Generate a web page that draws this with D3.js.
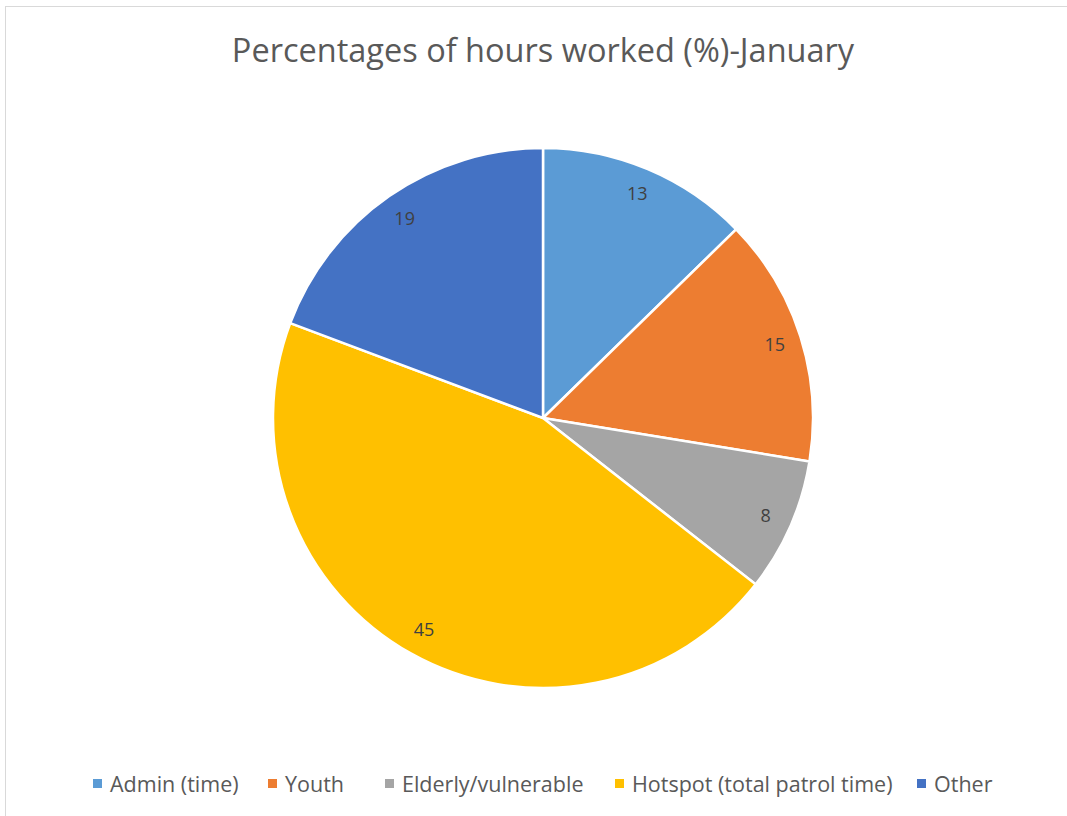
<!DOCTYPE html>
<html>
<head>
<meta charset="utf-8">
<script src="https://cdn.jsdelivr.net/npm/d3@7"></script>
<style>
  body { margin: 0; background: #fff; }
  text { font-family: "Open Sans", "Liberation Sans", sans-serif; }
</style>
</head>
<body>
<div id="main"></div>
<script>
const categories = ["Admin (time)", "Youth", "Elderly/vulnerable", "Hotspot (total patrol time)", "Other"];
// slice shares; the labels show them rounded
const values = [12.7, 14.9, 8.0, 45.2, 19.3];
const colors = ["#5b9bd5", "#ed7d31", "#a5a5a5", "#ffc000", "#4472c4"];

const width = 1067;
const height = 816;
const cx = 543, cy = 418, radius = 270;

const svg = d3.select("#main").append("svg")
  .attr("width", width)
  .attr("height", height);

// chart border
svg.append("rect")
  .attr("x", 5.5).attr("y", 6.5)
  .attr("width", width + 10).attr("height", height + 10)
  .attr("fill", "#fff")
  .attr("stroke", "#d9d9d9");

svg.append("text")
  .attr("x", cx).attr("y", 62)
  .attr("text-anchor", "middle")
  .style("font-size", "32.5px")
  .style("fill", "#595959")
  .text("Percentages of hours worked (%)-January");

const color = d3.scaleOrdinal().domain(categories).range(colors);

const data = categories.map((c, i) => ({ name: c, value: values[i] }));
const pie = d3.pie().value(d => d.value).sort(null);
const arcs = pie(data);

const arc = d3.arc().innerRadius(0).outerRadius(radius);
const labelArc = d3.arc().innerRadius(243).outerRadius(243);

const g = svg.append("g").attr("transform", `translate(${cx},${cy})`);

g.selectAll("path")
  .data(arcs)
  .join("path")
  .attr("d", arc)
  .attr("fill", d => color(d.data.name))
  .attr("stroke", "#fff")
  .attr("stroke-width", 2.5);

g.selectAll("text.lbl")
  .data(arcs)
  .join("text")
  .attr("class", "lbl")
  .attr("transform", d => `translate(${labelArc.centroid(d)})`)
  .attr("text-anchor", "middle")
  .attr("dy", "0.35em")
  .style("font-size", "18px")
  .style("fill", "#404040")
  .text(d => Math.round(d.data.value));

// legend
const legendX = [93, 268, 385, 615, 917];
const legend = svg.append("g");
const item = legend.selectAll("g")
  .data(categories)
  .join("g")
  .attr("transform", (d, i) => `translate(${legendX[i]},784)`);

item.append("rect")
  .attr("x", 0).attr("y", -5)
  .attr("width", 9).attr("height", 9)
  .attr("fill", d => color(d));

item.append("text")
  .attr("x", 17).attr("y", 0)
  .attr("dy", "0.35em")
  .style("font-size", "21.5px")
  .style("fill", "#595959")
  .text(d => d);
</script>
</body>
</html>
